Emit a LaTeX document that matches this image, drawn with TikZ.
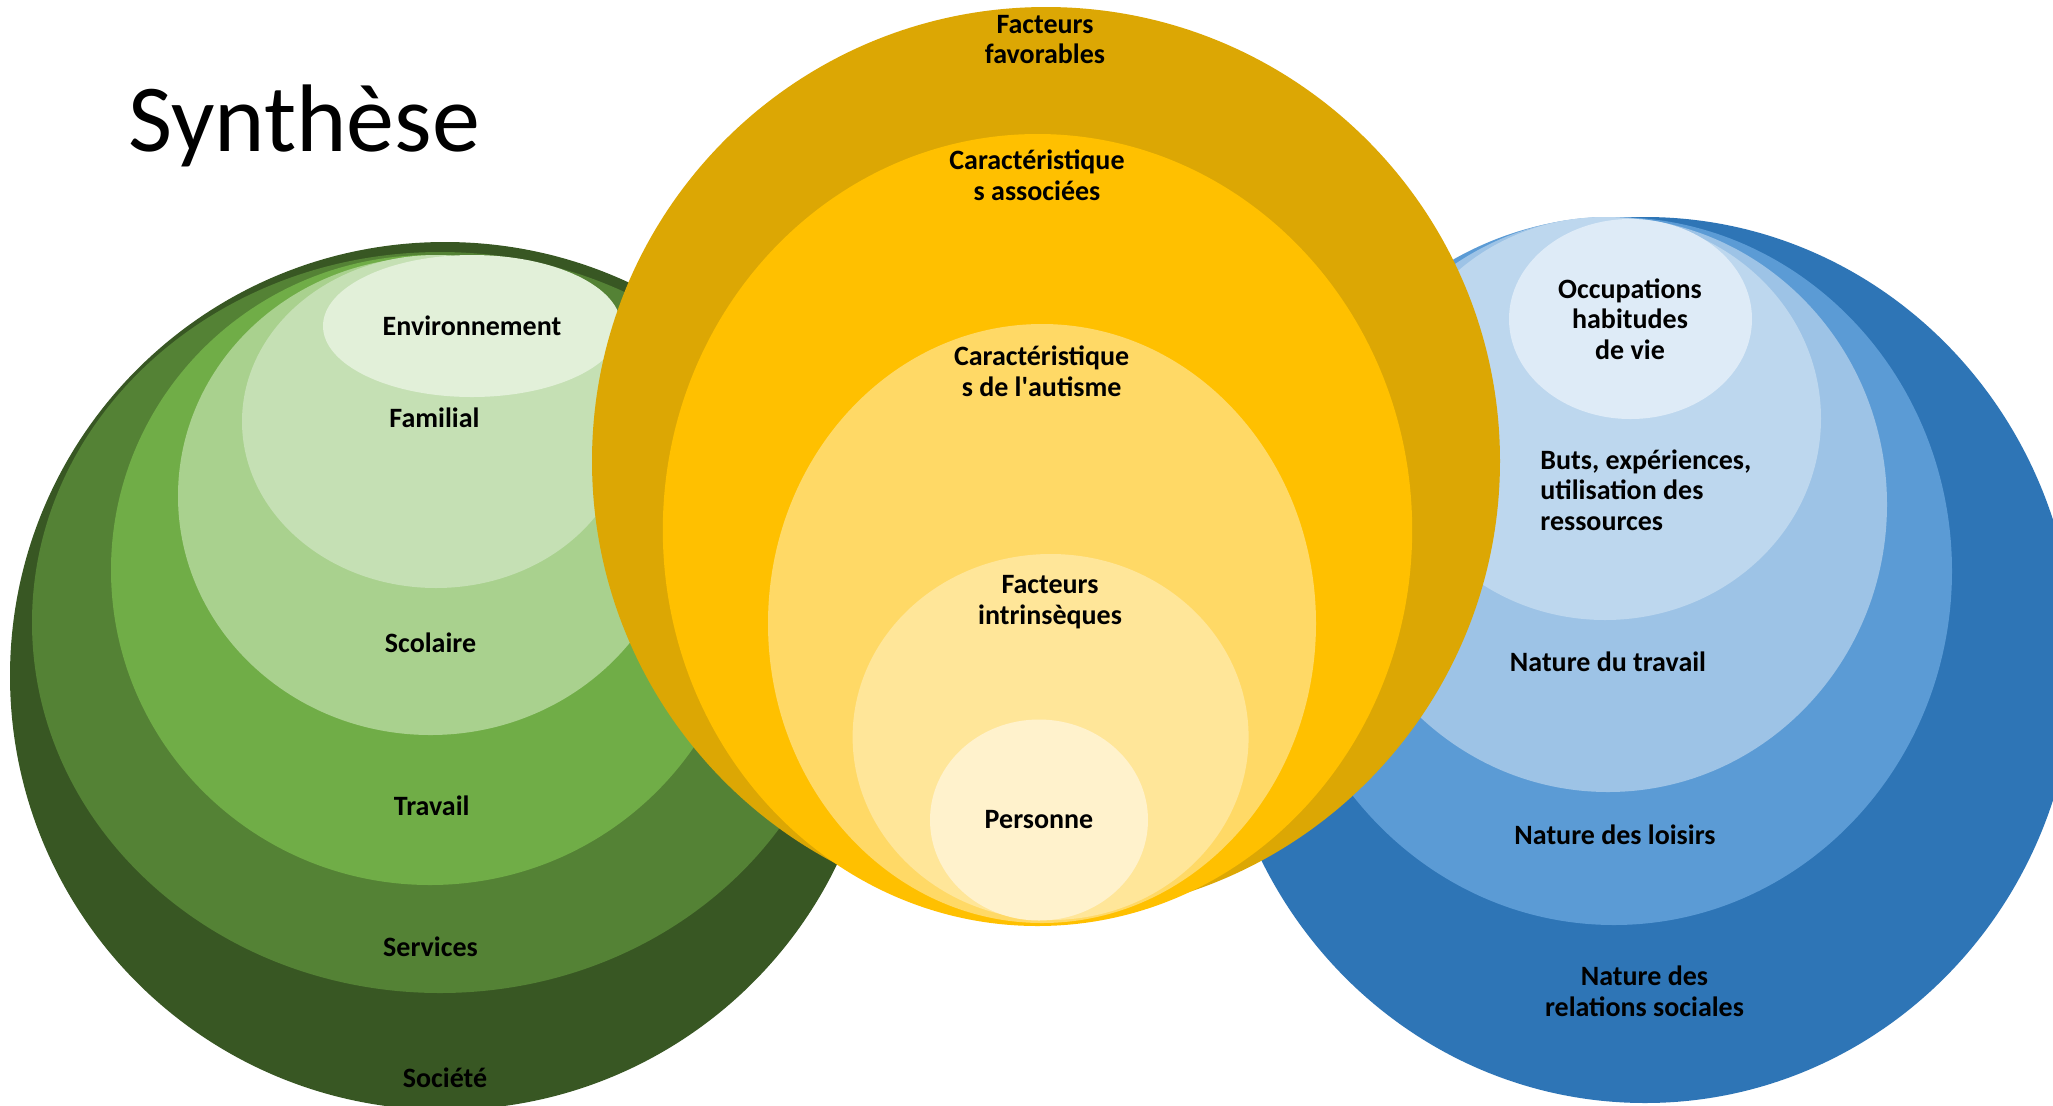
\documentclass[tikz,border=0pt]{standalone}
\usepackage{fontspec}
\setmainfont{Carlito}
\definecolor{gA}{HTML}{385723}
\definecolor{gB}{HTML}{548235}
\definecolor{gC}{HTML}{70AD47}
\definecolor{gD}{HTML}{A9D18E}
\definecolor{gE}{HTML}{C5E0B4}
\definecolor{gF}{HTML}{E2F0D9}
\definecolor{yA}{HTML}{DCA704}
\definecolor{yB}{HTML}{FFC000}
\definecolor{yC}{HTML}{FFD966}
\definecolor{yD}{HTML}{FFE699}
\definecolor{yE}{HTML}{FFF2CC}
\definecolor{bA}{HTML}{2E75B6}
\definecolor{bB}{HTML}{5B9BD5}
\definecolor{bC}{HTML}{9DC3E6}
\definecolor{bD}{HTML}{BDD7EE}
\definecolor{bE}{HTML}{DEEBF7}
\begin{document}
\begin{tikzpicture}[x=0.5pt,y=-0.5pt,
  lbl/.style={font=\bfseries\fontsize{14}{15.3}\selectfont, align=center, text=black, inner sep=0pt},
  title/.style={font=\fontsize{48}{52}\selectfont, text=black, inner sep=0pt}]
\useasboundingbox (0,0) rectangle (2053,1105);
\fill[white] (0,0) rectangle (2053,1105);
\clip (0,0) rectangle (2053,1105);
% green group
\fill[gA] (445,676) ellipse [x radius=435, y radius=434];
\fill[gB] (440,622.5) ellipse [x radius=408, y radius=370.5];
\fill[gC] (430,570) ellipse [x radius=319, y radius=315];
\fill[gD] (430.5,496) ellipse [x radius=252.5, y radius=239];
\fill[gE] (436,421.5) ellipse [x radius=194, y radius=166.5];
\fill[gF] (472,326) ellipse [x radius=149, y radius=71];
% blue group
\fill[bA] (1645,660) ellipse [x radius=430, y radius=443];
\fill[bB] (1614,571) ellipse [x radius=338, y radius=354];
\fill[bC] (1608,504.5) ellipse [x radius=279, y radius=287.5];
\fill[bD] (1605,418.5) ellipse [x radius=216, y radius=201.5];
\fill[bE] (1630.5,319) ellipse [x radius=121.5, y radius=100];
% gold group
\fill[yA] (1046,461) ellipse [x radius=454, y radius=454];
\fill[yB] (1037.5,530) ellipse [x radius=374.7, y radius=396];
\fill[yC] (1042,623.5) ellipse [x radius=274, y radius=299.5];
\fill[yD] (1050.6,737) ellipse [x radius=198, y radius=183];
\fill[yE] (1039,820) ellipse [x radius=109, y radius=100.5];
% title
\node[title, anchor=base west] (titre) at (128,151) {Synthèse};
% green labels
\node[lbl] (env) at (472,326) {Environnement};
\node[lbl] (fam) at (434.5,418) {Familial};
\node[lbl] (sco) at (430.5,643) {Scolaire};
\node[lbl] (tra) at (431.7,806) {Travail};
\node[lbl] (ser) at (430.5,947) {Services};
\node[lbl] (soc) at (445,1078) {Société};
% gold labels
\node[lbl] (ff) at (1045,39.5) {Facteurs\\favorables};
\node[lbl] (ca) at (1037,175) {Caractéristique\\s associées};
\node[lbl] (cau) at (1041.6,371) {Caractéristique\\s de l\textquotesingle autisme};
\node[lbl] (fi) at (1050,602) {Facteurs\\intrinsèques};
\node[lbl] (pers) at (1039,820) {Personne};
% blue labels
\node[lbl] (occ) at (1630,319) {Occupations\\habitudes\\de vie};
\node[lbl, align=left, anchor=west] (buts) at (1540,490) {Buts, expériences,\\utilisation des\\ressources};
\node[lbl] (ntr) at (1608,661.6) {Nature du travail};
\node[lbl] (nlo) at (1615,835) {Nature des loisirs};
\node[lbl] (nrs) at (1644.5,991) {Nature des\\relations sociales};
\end{tikzpicture}
\end{document}
